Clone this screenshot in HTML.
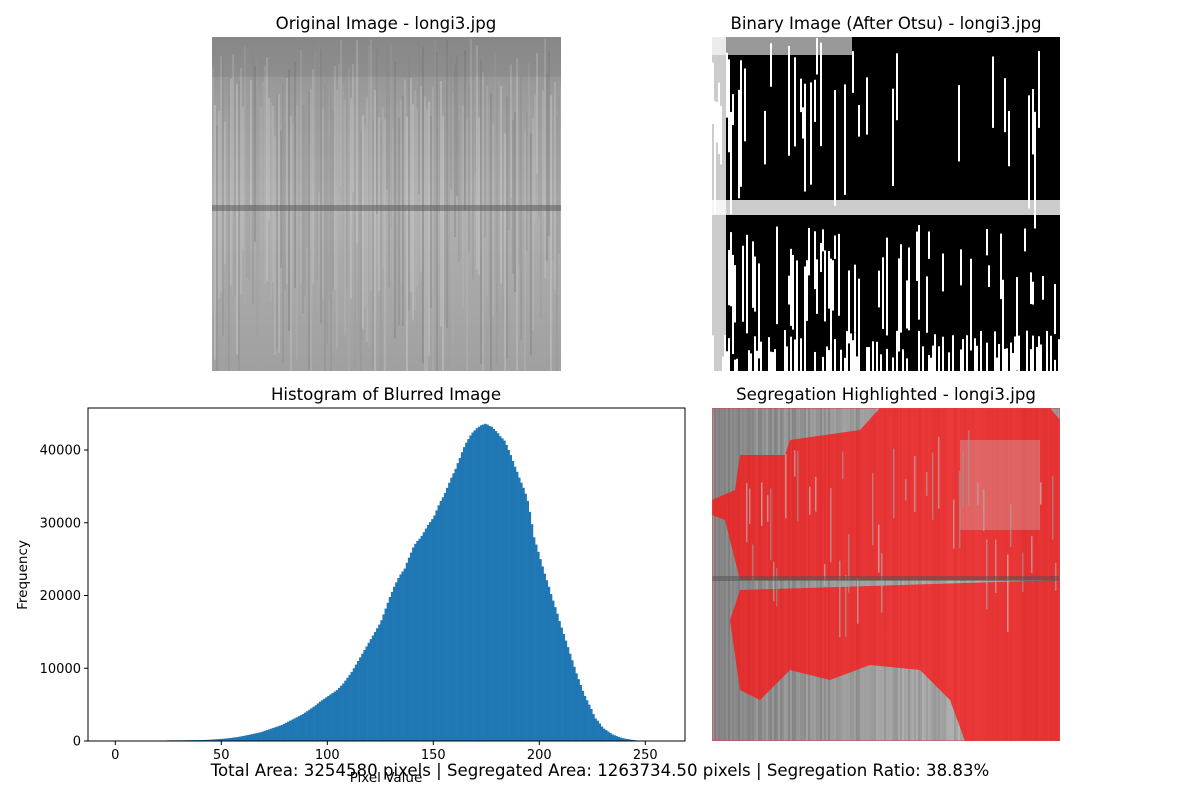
<!DOCTYPE html>
<html><head><meta charset="utf-8">
<style>
html,body{margin:0;padding:0;background:#fff;}
svg text{font-family:"DejaVu Sans","Liberation Sans",sans-serif;}
</style></head>
<body>
<svg id="fig" width="1200" height="800" viewBox="0 0 1200 800" xmlns="http://www.w3.org/2000/svg">
<defs>
<clipPath id="c1"><rect x="212" y="37" width="349" height="334"/></clipPath>
<clipPath id="c2"><rect x="712" y="37" width="348" height="334"/></clipPath>
<clipPath id="c3"><rect x="712" y="408" width="348" height="333"/></clipPath>
<linearGradient id="g1" x1="0" y1="0" x2="0" y2="1">
<stop offset="0" stop-color="#909090"/><stop offset="0.5" stop-color="#b0b0b0"/><stop offset="1" stop-color="#a0a0a0"/></linearGradient>
<linearGradient id="g3" x1="0" y1="0" x2="1" y2="0">
<stop offset="0" stop-color="#808080"/><stop offset="0.7" stop-color="#b0b0b0"/><stop offset="1" stop-color="#999"/></linearGradient>
</defs>
<text x="386" y="29" font-size="16.6" text-anchor="middle">Original Image - longi3.jpg</text>
<text x="886" y="29" font-size="16.6" text-anchor="middle">Binary Image (After Otsu) - longi3.jpg</text>
<text x="386" y="400" font-size="16.6" text-anchor="middle">Histogram of Blurred Image</text>
<text x="886" y="400" font-size="16.6" text-anchor="middle">Segregation Highlighted - longi3.jpg</text>

<g id="orig" clip-path="url(#c1)">
<rect x="212" y="37" width="349" height="334" fill="url(#g1)"/>
</g>
<g id="bin" clip-path="url(#c2)">
<rect x="712" y="37" width="348" height="334" fill="#000"/>
</g>
<g id="seg" clip-path="url(#c3)">
<rect x="712" y="408" width="348" height="333" fill="url(#g3)"/>
</g>

<g id="hist"></g>

<text x="600" y="776" font-size="16.6" text-anchor="middle">Total Area: 3254580 pixels | Segregated Area: 1263734.50 pixels | Segregation Ratio: 38.83%</text>
</svg>
<script>
const binCounts=[
0,0,0,0,0,0,0,0,0,0,
0,0,0,0,0,0,0,0,0,0,
0,0,0,60,80,90,100,100,100,100,
100,100,110,110,110,120,120,120,130,130,
130,140,150,160,180,200,220,240,260,280,
300,330,360,390,420,460,500,540,590,640,
700,760,820,880,940,1000,1070,1130,1200,1300,
1400,1500,1600,1700,1800,1900,2000,2100,2200,2350,
2500,2650,2800,2950,3100,3250,3400,3550,3700,3900,
4100,4300,4500,4700,4900,5150,5400,5600,5800,6000,
6200,6400,6600,6800,7000,7300,7600,7900,8300,8700,
9100,9500,10000,10500,11000,11500,12000,12500,13000,13500,
14000,14500,15000,15500,16000,16600,17400,18200,19000,19800,
20500,21200,21800,22400,22900,23300,23700,24500,25200,25900,
26600,27100,27500,27800,28200,28700,29200,29700,30100,30500,
31000,31700,32400,33000,33500,34100,34800,35500,36200,36800,
37400,38200,38900,39700,40400,41000,41500,42000,42400,42700,
43000,43200,43400,43500,43600,43500,43300,43200,42900,42600,
42300,41900,41600,41300,40700,40000,39300,38500,37700,37000,
36200,35500,34800,34000,33000,31500,29800,28000,27000,26000,
25000,24000,23000,22100,21200,20200,19300,18400,17500,16500,
15600,14700,13800,12900,12000,11100,10200,9300,8500,7700,
6900,6200,5600,5000,4400,3700,3100,2800,2400,2000,
1700,1500,1300,1100,900,780,670,560,460,380,
320,270,220,170,130,100,70,40,20,10,
0,0,0,0,0,0];
const xTicks=[0,50,100,150,200,250];
const yTicks=[0,10000,20000,30000,40000];
const NS="http://www.w3.org/2000/svg";
function mk(tag,attrs,parent){const e=document.createElementNS(NS,tag);for(const k in attrs)e.setAttribute(k,attrs[k]);parent.appendChild(e);return e;}
const L=88,R=685,T=408,B=741;
const xs=v=>115.3+v*2.12;
const ys=v=>B-v*0.007275;
const h=document.getElementById('hist');
binCounts.forEach((c,i)=>{
 if(c<=0)return;
 const r=mk('rect',{x:xs(i),y:ys(c),width:2.12+0.3,height:B-ys(c),fill:'#1f77b4'},h);
 
 
});
const frame=mk('rect',{x:L,y:T,width:R-L,height:B-T,fill:'none',stroke:'#000','stroke-width':1},h);


xTicks.forEach(t=>{
 const x=xs(t);
 mk('line',{x1:x,x2:x,y1:B,y2:B+4,stroke:'#000'},h);
 const tx=mk('text',{x:x,y:B+18,'font-size':13,'text-anchor':'middle'},h);
 tx.textContent=t;
 
 
});
yTicks.forEach(t=>{
 const y=ys(t);
 mk('line',{x1:L-4,x2:L,y1:y,y2:y,stroke:'#000'},h);
 const tx=mk('text',{x:L-7,y:y+4.5,'font-size':13,'text-anchor':'end'},h);
 tx.textContent=t;
 
 
});
const xl=mk('text',{x:386,y:782,'font-size':13.5,'text-anchor':'middle'},h);
xl.textContent='Pixel Value';


const yl=mk('text',{x:27,y:575,'font-size':13.5,'text-anchor':'middle',transform:'rotate(-90 27 575)'},h);
yl.textContent='Frequency';



// image textures (decorative, seeded)
let s=12345;function rnd(){s=(s*1103515245+12345)%2147483648;return s/2147483648;}
const og=document.getElementById('orig');
for(let x=212;x<561;x+=2){
 const v=Math.floor(120+rnd()*90);
 mk('rect',{x:x,y:37+rnd()*100,width:2,height:120+rnd()*200,fill:`rgb(${v},${v},${v})`,opacity:0.4},og);
}
mk('rect',{x:212,y:37,width:349,height:40,fill:'#555',opacity:0.15},og);
mk('rect',{x:212,y:205,width:349,height:6,fill:'#555',opacity:0.5},og);
const bg=document.getElementById('bin');
for(let x=712;x<1060;x+=2){
 const f=(x-712)/348;
 if(rnd()<(f<0.1?0.7:(f<0.5?0.25:0.08))){const y0=37+rnd()*80;mk('rect',{x:x,y:y0,width:2,height:30+rnd()*100,fill:'#fff'},bg);}
 if(rnd()<(f<0.1?0.6:(f<0.65?0.3:0.15))){const y0=225+rnd()*60;mk('rect',{x:x,y:y0,width:2,height:20+rnd()*80,fill:'#fff'},bg);}
 if(rnd()<0.5)mk('rect',{x:x,y:330+rnd()*30,width:2,height:50,fill:'#fff'},bg);
}
mk('rect',{x:712,y:37,width:14,height:334,fill:'#fff',opacity:0.8},bg);
mk('rect',{x:712,y:200,width:348,height:15,fill:'#fff',opacity:0.8},bg);
mk('rect',{x:712,y:37,width:140,height:18,fill:'#fff',opacity:0.6},bg);
const sg=document.getElementById('seg');
for(let x=712;x<1060;x+=2){
 const v=Math.floor(110+rnd()*80);
 mk('rect',{x:x,y:408,width:2,height:333,fill:`rgb(${v},${v},${v})`,opacity:0.35},sg);
}
mk('polygon',{points:'740,455 785,455 790,440 860,430 880,408 1050,408 1060,420 1060,580 740,580 725,520 712,515 712,500 735,490',fill:'#ff1010',opacity:0.75},sg);
mk('polygon',{points:'740,590 1060,580 1060,741 965,741 950,700 920,670 870,665 830,680 790,670 760,700 740,690 730,620',fill:'#ff1010',opacity:0.75},sg);
mk('rect',{x:960,y:440,width:80,height:90,fill:'#d0d0d0',opacity:0.3},sg);
for(let x=740;x<1060;x+=3){
 if(rnd()<0.35){const v=Math.floor(150+rnd()*60);mk('rect',{x:x,y:430+rnd()*150,width:1.5,height:20+rnd()*60,fill:`rgb(${v},${v},${v})`,opacity:0.6},sg);}
}
mk('rect',{x:712,y:576,width:348,height:5,fill:'#505050',opacity:0.5},sg);
mk('rect',{x:712,y:408,width:348,height:333,fill:'none',stroke:'#e04040','stroke-width':1},sg);
</script>
</body></html>
